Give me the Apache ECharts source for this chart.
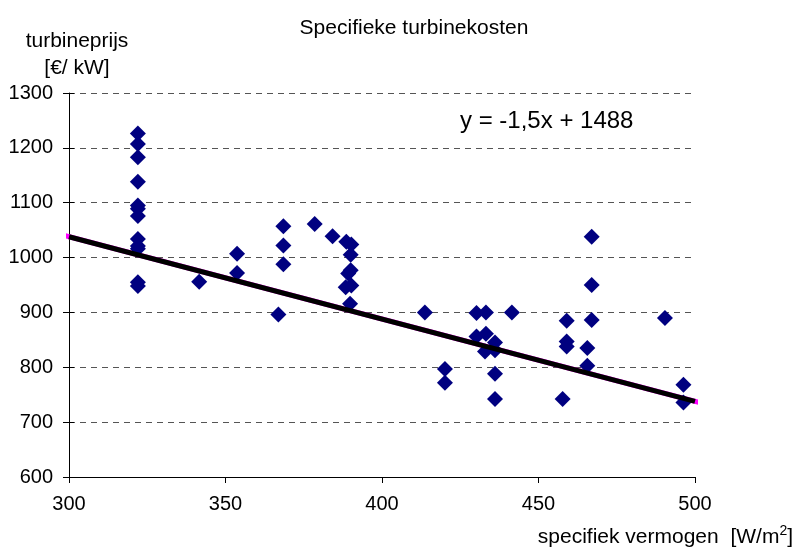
<!DOCTYPE html>
<html>
<head>
<meta charset="utf-8">
<script src="https://cdn.jsdelivr.net/npm/echarts@6/dist/echarts.min.js"></script>
<style>
  html, body { margin: 0; padding: 0; background: #fff; }
  #chart { width: 797px; height: 557px; }
</style>
</head>
<body>
<div id="chart"></div>
<script>
// Specific power (W/m2) of each turbine
const vermogen = [
  322, 322, 322, 322, 322, 322, 322, 322, 322, 322, 322, 322,
  341.6, 353.7, 353.7, 366.9, 368.5, 368.5, 368.5, 378.5, 384.2,
  388.6, 390.2, 390, 390, 389.2, 388.4, 390.2, 389.8,
  413.7, 420.1, 420.1, 430.2, 430.2, 433.2, 433.2, 432.9,
  436.1, 436.1, 436.1, 436.1, 441.5, 457.7, 459, 459, 459,
  465.6, 465.6, 467, 467, 467, 490.4, 496.3, 496.3
];
// Turbine price (EUR/kW) of each turbine
const prijs = [
  1226, 1207, 1183, 1138, 1095, 1089, 1076, 1034, 1021, 1016, 955, 948,
  956, 1007, 972, 896, 1057, 1022, 988, 1061, 1039,
  1029, 1024, 1005, 977, 971, 946, 949, 916,
  900, 797, 772, 899, 856, 900, 861, 829,
  845, 831, 788, 742, 900, 742, 885, 847, 838,
  835, 803, 1038, 950, 886, 890, 768, 736
];

// Linear trend line y = a*x + b
const helling = -1.5;
const snijpunt = 1488;
const trendX = [300, 500];

const xTicks = [300, 350, 400, 450, 500];
const yTicks = [600, 700, 800, 900, 1000, 1100, 1200, 1300];

const punten = vermogen.map((x, i) => [x, prijs[i]]);
const trend = trendX.map(x => [x, helling * x + snijpunt]);
const trendEind = [[trendX[0] - 1.5, helling * (trendX[0] - 1.5) + snijpunt],
                   [trendX[1] + 1.8, helling * (trendX[1] + 1.8) + snijpunt]];

const font = 'Liberation Sans, Arial, sans-serif';
const chart = echarts.init(document.getElementById('chart'), null, { renderer: 'canvas' });

chart.setOption({
  animation: false,
  backgroundColor: '#ffffff',
  textStyle: { fontFamily: font },
  title: {
    text: 'Specifieke turbinekosten',
    left: 409, top: 13, textAlign: 'center',
    textStyle: { fontFamily: font, fontSize: 21, fontWeight: 'normal', color: '#000' }
  },
  grid: { left: 69, right: 102, top: 93, bottom: 80 },
  xAxis: {
    type: 'value',
    min: xTicks[0], max: xTicks[xTicks.length - 1], interval: 50,
    axisLine: { show: true, lineStyle: { color: '#000', width: 1 } },
    axisTick: { show: true, length: 6, lineStyle: { color: '#000' } },
    axisLabel: { color: '#000', fontSize: 20, fontFamily: font, margin: 17 },
    splitLine: { show: false }
  },
  yAxis: [{
    type: 'value',
    min: yTicks[0], max: yTicks[yTicks.length - 1], interval: 100,
    axisLine: { show: true, lineStyle: { color: '#000', width: 1 } },
    axisTick: { show: true, length: 6, lineStyle: { color: '#000' } },
    axisLabel: { color: '#000', fontSize: 20, fontFamily: font, margin: 16,
                 formatter: v => String(v) },
    splitLine: { show: true, lineStyle: { color: '#555', width: 1, type: [6, 5] } }
  }, {
    type: 'value', position: 'left',
    min: yTicks[0], max: yTicks[yTicks.length - 1], interval: 100,
    axisLine: { show: false },
    axisTick: { show: true, inside: true, length: 5, lineStyle: { color: '#000' } },
    axisLabel: { show: false },
    splitLine: { show: false }
  }],
  graphic: [
    { type: 'text', x: 77, y: 41,
      style: { text: 'turbineprijs', font: '21px ' + font, fill: '#000',
               textAlign: 'center', textVerticalAlign: 'middle' } },
    { type: 'text', x: 77, y: 68,
      style: { text: '[€/ kW]', font: '21px ' + font, fill: '#000',
               textAlign: 'center', textVerticalAlign: 'middle' } },
    { type: 'text', x: 460, y: 121,
      style: { text: 'y = -1,5x + 1488', font: '24px ' + font, fill: '#000',
               textVerticalAlign: 'middle' } },
    { type: 'text', right: 4, top: 524,
      style: {
        text: '{a|specifiek vermogen  [W/m}{s|2}{a|]}',
        rich: {
          a: { fontSize: 21, fontFamily: font, color: '#000', verticalAlign: 'bottom' },
          s: { fontSize: 14, fontFamily: font, color: '#000', verticalAlign: 'top', padding: [0, 0, 10, 0] }
        }
      } }
  ],
  series: [
    {
      type: 'line', data: trendEind, clip: false, silent: true,
      symbol: 'none', lineStyle: { color: '#ff00ff', width: 5 }, z: 1
    },
    {
      type: 'scatter', data: punten, symbol: 'diamond', symbolSize: 16,
      itemStyle: { color: '#000080', opacity: 1 }, z: 2
    },
    {
      type: 'line', data: trend, clip: false, silent: true,
      symbol: 'none', lineStyle: { color: '#000', width: 5 }, z: 3
    }
  ]
});
</script>
</body>
</html>
